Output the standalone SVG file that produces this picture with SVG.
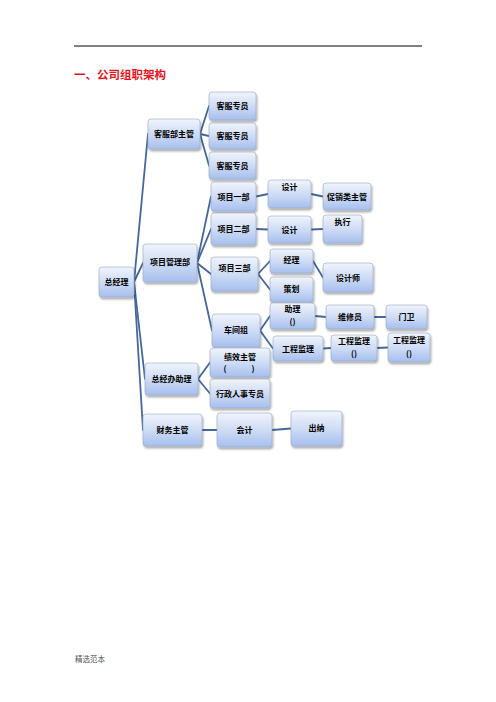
<svg xmlns="http://www.w3.org/2000/svg" width="496" height="702" viewBox="0 0 496 702">
<defs>
<linearGradient id="g" x1="0" y1="0" x2="0" y2="1">
<stop offset="0" stop-color="#f0f4fc"/>
<stop offset="0.5" stop-color="#cfdcf5"/>
<stop offset="1" stop-color="#a6bfee"/>
</linearGradient>
<filter id="sh" x="-20%" y="-20%" width="140%" height="150%">
<feGaussianBlur in="SourceAlpha" stdDeviation="1"/>
<feOffset dx="0.5" dy="1.5" result="b"/>
<feComponentTransfer><feFuncA type="linear" slope="0.35"/></feComponentTransfer>
<feMerge><feMergeNode/><feMergeNode in="SourceGraphic"/></feMerge>
</filter>
</defs>
<style>
.n rect{fill:url(#g);stroke:#98a7c4;stroke-width:0.6;filter:url(#sh)}
.n text{font-family:"Noto Sans CJK SC","Noto Sans",sans-serif;font-weight:bold;font-size:8px;fill:#000;text-anchor:middle}
.c line{stroke:#44689e;stroke-width:1.8;stroke-linecap:round}
</style>
<rect width="496" height="702" fill="#fff"/>
<line x1="74" y1="46" x2="422" y2="46" stroke="#000" stroke-width="1"/>
<text x="419" y="42" font-family="Liberation Serif,serif" font-size="5" fill="#555">.</text>
<text x="74" y="79" font-family="Noto Sans CJK SC,sans-serif" font-weight="bold" font-size="11.5" fill="#e8141c">一、公司组职架构</text>
<text x="75" y="662" font-family="Liberation Serif,Noto Sans CJK SC,serif" font-size="7.5" fill="#555">精选范本</text>

<g id="connectors" class="c">
<line x1="134" y1="282" x2="148" y2="134"/>
<line x1="134" y1="282" x2="143" y2="263"/>
<line x1="134" y1="282" x2="145" y2="379"/>
<line x1="134" y1="282" x2="143" y2="430"/>
<line x1="200" y1="134" x2="209" y2="106"/>
<line x1="200" y1="134" x2="209" y2="136"/>
<line x1="200" y1="134" x2="209" y2="165.5"/>
<line x1="197" y1="263" x2="211" y2="196.5"/>
<line x1="197" y1="263" x2="211" y2="229"/>
<line x1="197" y1="263" x2="211" y2="274"/>
<line x1="197" y1="263" x2="212" y2="330.5"/>
<line x1="256" y1="196.5" x2="268" y2="194"/>
<line x1="311" y1="194" x2="323" y2="196.5"/>
<line x1="256" y1="229" x2="268" y2="229.5"/>
<line x1="311" y1="229.5" x2="323" y2="229"/>
<line x1="258" y1="274" x2="270" y2="261"/>
<line x1="258" y1="274" x2="270" y2="289.5"/>
<line x1="313" y1="261" x2="323" y2="277.5"/>
<line x1="260" y1="330.5" x2="270" y2="316"/>
<line x1="260" y1="330.5" x2="273" y2="348.5"/>
<line x1="315" y1="316" x2="326" y2="317"/>
<line x1="374" y1="317" x2="386" y2="317"/>
<line x1="323" y1="348.5" x2="331" y2="348"/>
<line x1="377" y1="348" x2="388" y2="347.5"/>
<line x1="198" y1="379" x2="210" y2="362.5"/>
<line x1="198" y1="379" x2="210" y2="393.5"/>
<line x1="202" y1="430" x2="217" y2="430"/>
<line x1="272" y1="430" x2="291" y2="428.5"/>
</g>

<g id="n-zjl" class="n"><rect x="99" y="267" width="35" height="30" rx="3"/><text x="116.5" y="285">总经理</text></g>
<g id="n-kfbzg" class="n"><rect x="148" y="119" width="52" height="30" rx="3"/><text x="174" y="137">客服部主管</text></g>
<g id="n-kfzy1" class="n"><rect x="209" y="92" width="47" height="28" rx="3"/><text x="232.5" y="109">客服专员</text></g>
<g id="n-kfzy2" class="n"><rect x="209" y="123" width="47" height="26" rx="3"/><text x="232.5" y="139">客服专员</text></g>
<g id="n-kfzy3" class="n"><rect x="209" y="152" width="47" height="27" rx="3"/><text x="232.5" y="168.5">客服专员</text></g>
<g id="n-xmglb" class="n"><rect x="143" y="244" width="54" height="38" rx="3"/><text x="170" y="265">项目管理部</text></g>
<g id="n-xm1" class="n"><rect x="211" y="182" width="45" height="29" rx="3"/><text x="233.5" y="199.5">项目一部</text></g>
<g id="n-sj1" class="n"><rect x="268" y="180" width="43" height="28" rx="3"/><text x="289.5" y="190">设计</text></g>
<g id="n-cxlzg" class="n"><rect x="323" y="183" width="48" height="27" rx="3"/><text x="347" y="199.5">促销类主管</text></g>
<g id="n-xm2" class="n"><rect x="211" y="213" width="45" height="32" rx="3"/><text x="233.5" y="232">项目二部</text></g>
<g id="n-sj2" class="n"><rect x="268" y="216" width="43" height="27" rx="3"/><text x="289.5" y="232.5">设计</text></g>
<g id="n-zx" class="n"><rect x="323" y="215" width="39" height="28" rx="3"/><text x="342.5" y="225">执行</text></g>
<g id="n-xm3" class="n"><rect x="211" y="257" width="47" height="34" rx="3"/><text x="234.5" y="271">项目三部</text></g>
<g id="n-jl" class="n"><rect x="270" y="249" width="43" height="24" rx="3"/><text x="291.5" y="263">经理</text></g>
<g id="n-ch" class="n"><rect x="270" y="277" width="43" height="25" rx="3"/><text x="291.5" y="292">策划</text></g>
<g id="n-sjs" class="n"><rect x="323" y="263" width="50" height="29" rx="3"/><text x="348" y="280.5">设计师</text></g>
<g id="n-cjz" class="n"><rect x="212" y="314" width="48" height="33" rx="3"/><text x="236" y="333">车间组</text></g>
<g id="n-zl" class="n"><rect x="270" y="303" width="45" height="26" rx="3"/><text x="292.5" y="312">助理</text><text x="292.5" y="325">()</text></g>
<g id="n-wxy" class="n"><rect x="326" y="305" width="48" height="24" rx="3"/><text x="350" y="320">维修员</text></g>
<g id="n-mw" class="n"><rect x="386" y="305" width="41" height="24" rx="3"/><text x="406.5" y="320">门卫</text></g>
<g id="n-gcjl1" class="n"><rect x="273" y="336" width="50" height="25" rx="3"/><text x="298" y="351.5">工程监理</text></g>
<g id="n-gcjl2" class="n"><rect x="331" y="335" width="46" height="26" rx="3"/><text x="354" y="344">工程监理</text><text x="354" y="357">()</text></g>
<g id="n-gcjl3" class="n"><rect x="388" y="333" width="42" height="29" rx="3"/><text x="409" y="343">工程监理</text><text x="409" y="357">()</text></g>
<g id="n-zjbzl" class="n"><rect x="145" y="363" width="53" height="32" rx="3"/><text x="171.5" y="382">总经办助理</text></g>
<g id="n-jxzg" class="n"><rect x="210" y="348" width="60" height="29" rx="3"/><text x="240" y="360">绩效主管</text><text x="225" y="372">(</text><text x="253" y="372">)</text></g>
<g id="n-xzrs" class="n"><rect x="210" y="379" width="60" height="29" rx="3"/><text x="240" y="396.5">行政人事专员</text></g>
<g id="n-cwzg" class="n"><rect x="143" y="414" width="59" height="32" rx="3"/><text x="172.5" y="433">财务主管</text></g>
<g id="n-kj" class="n"><rect x="217" y="413" width="55" height="34" rx="3"/><text x="244.5" y="433">会计</text></g>
<g id="n-cn" class="n"><rect x="291" y="411" width="51" height="35" rx="3"/><text x="316.5" y="431">出纳</text></g>
</svg>
